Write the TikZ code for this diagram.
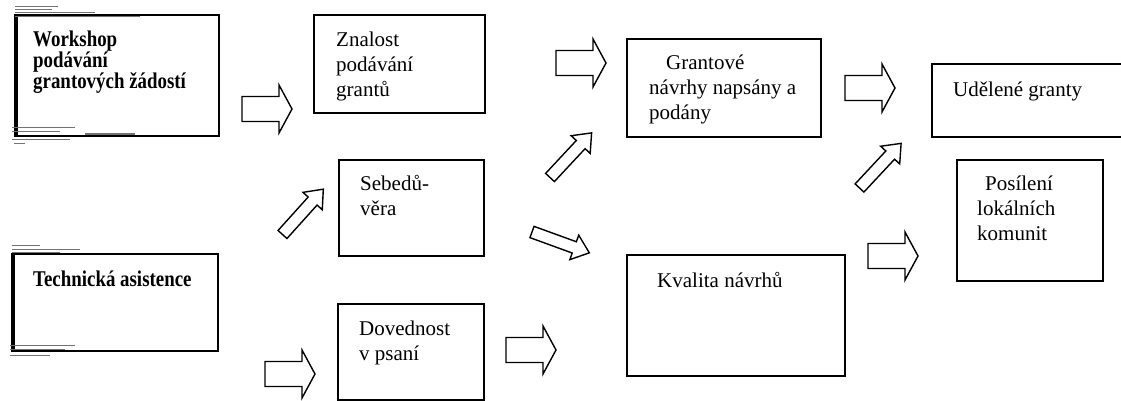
\documentclass[tikz,border=0pt]{standalone}
\usepackage{fontspec}
\setmainfont{Liberation Serif}
% narrow, tall face for the two input boxes
\newfontfamily\scanfont[FakeStretch=0.84]{Liberation Serif}
\begin{document}
\begin{tikzpicture}[x=1pt,y=-1pt,
  box/.style={draw, line width=1.4pt, rectangle, anchor=north west,
    inner sep=0pt, outer sep=0pt},
  lbl/.style={anchor=base west, inner sep=0pt, font=\fontsize{21}{25}\selectfont},
  scn/.style={anchor=base west, inner sep=0pt, font=\fontsize{22.5}{21}\selectfont\scanfont\bfseries},
  arrowline/.style={draw, line width=1.4pt, line join=miter, fill=white},
  smear/.style={line width=#1, draw=black!55},
  harrow/.pic={\path[arrowline] (0,-12.5) -- (37,-12.5) -- (37,-24) -- (50,0)
      -- (37,24) -- (37,12.5) -- (0,12.5) -- cycle;},
  darrow/.pic={\path[arrowline] (0,-6) -- (45,-6) -- (45,-13) -- (61,0)
      -- (45,13) -- (45,6) -- (0,6) -- cycle;}
]
\useasboundingbox (0,0) rectangle (1121,401);
\clip (0,0) rectangle (1121,401);
\fill[white] (0,0) rectangle (1121,401);

% input boxes (left column)
\node[box, minimum width=204pt, minimum height=121pt] (wk) at (15,15) {};
\draw[line width=3.5pt] (wk.north west) ++(1.5,0) -- ++(0,121);
\node[box, minimum width=206pt, minimum height=97pt] (tc) at (12,254) {};
\draw[line width=3.5pt] (tc.north west) ++(1.5,0) -- ++(0,97);

% smudged edges of the left boxes
\draw[smear=0.8pt] (15,6) -- (58,6) (15,9) -- (52,9) (15,12) -- (95,12) (15,16) -- (140,16);
\draw[smear=0.8pt] (12,127) -- (75,127) (12,131) -- (60,131) (12,139) -- (70,139) (14,143) -- (25,143);
\draw[smear=1.2pt] (85,134) -- (135,134);
\draw[smear=0.8pt] (12,245) -- (40,245) (12,249) -- (80,249) (12,252) -- (60,252);
\draw[smear=0.8pt] (10,345) -- (75,345) (10,349) -- (65,349) (10,355) -- (50,355);

% intermediate boxes
\node[box, minimum width=171pt, minimum height=98pt] (zn) at (314,15) {};
\node[box, minimum width=145pt, minimum height=96pt] (se) at (339,160) {};
\node[box, minimum width=146pt, minimum height=96pt] (dv) at (338,304) {};
\node[box, minimum width=194pt, minimum height=98pt] (gr) at (627,39) {};
\node[box, minimum width=218pt, minimum height=121pt] (kv) at (627,255) {};
\node[box, minimum width=200pt, minimum height=73pt] (ud) at (932,64) {};
\node[box, minimum width=146pt, minimum height=121pt] (po) at (957,160) {};

% texts
\node[scn] (wk-t) at (33,47) {\vtop{\baselineskip=21pt\lineskiplimit=-100pt
  \hbox{Workshop}\hbox{podávání}\hbox{grantových žádostí}}};
\node[scn] (tc-t) at (33,286) {Technická asistence};
\node[lbl] (zn-t) at (336,47) {\begin{tabular}[t]{@{}l@{}}Znalost\\podávání\\grantů\end{tabular}};
\node[lbl] (se-t) at (360,190) {\begin{tabular}[t]{@{}l@{}}Sebedů-\\věra\end{tabular}};
\node[lbl] (dv-t) at (359,335) {\begin{tabular}[t]{@{}l@{}}Dovednost\\v psaní\end{tabular}};
\node[lbl] (gr-t) at (649,70) {\begin{tabular}[t]{@{}l@{}}\hspace{17pt}Grantové\\návrhy napsány a\\podány\end{tabular}};
\node[lbl] (kv-t) at (657,287) {Kvalita návrhů};
\node[lbl] (ud-t) at (953,97) {Udělené granty};
\node[lbl] (po-t) at (977,190) {\begin{tabular}[t]{@{}l@{}}\hspace{8pt}Posílení\\lokálních\\komunit\end{tabular}};

% block arrows
\pic (a1) at (242,109) {harrow};
\pic (a2) at (265,374) {harrow};
\pic (a3) at (556,63) {harrow};
\pic (a4) at (506,350) {harrow};
\pic (a5) at (845,88) {harrow};
\pic (a6) at (868,256) {harrow};
\pic[rotate=48] (d1) at (282.5,234.5) {darrow};
\pic[rotate=47] (d2) at (550,177.5) {darrow};
\pic[rotate=-20] (d3) at (532,232) {darrow};
\pic[rotate=47] (d4) at (859.5,188) {darrow};
\end{tikzpicture}
\end{document}
